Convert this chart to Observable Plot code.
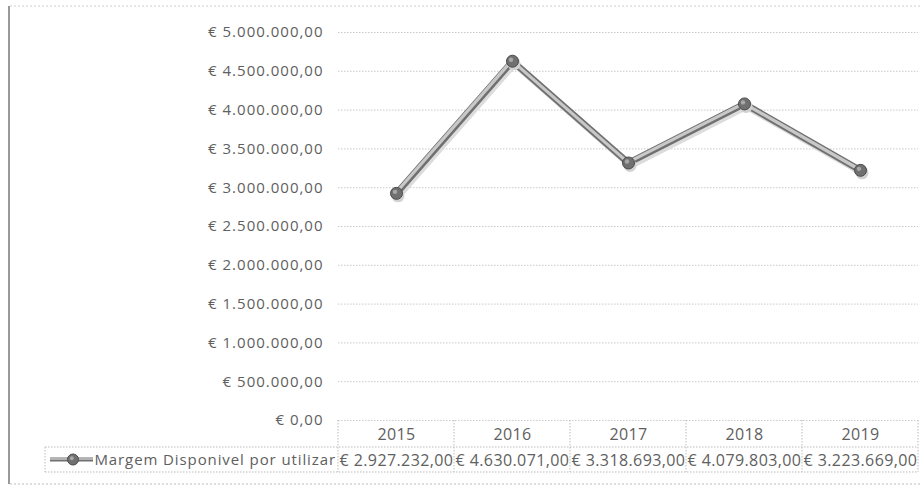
<!DOCTYPE html>
<html>
<head>
<meta charset="utf-8">
<script src="https://cdn.jsdelivr.net/npm/d3@7"></script>
<script src="https://cdn.jsdelivr.net/npm/@observablehq/plot@0.6"></script>
<style>
  html, body { margin: 0; padding: 0; background: #fff; }
  svg { display: block; }
</style>
</head>
<body>
<div id="chart"></div>
<script>
const years = ["2015", "2016", "2017", "2018", "2019"];
const values = [2927232, 4630071, 3318693, 4079803, 3223669];
const seriesName = "Margem Disponivel por utilizar";
const yTicks = [0, 500000, 1000000, 1500000, 2000000, 2500000, 3000000, 3500000, 4000000, 4500000, 5000000];

const data = years.map((y, i) => ({year: y, value: values[i]}));

const locale = d3.formatLocale({decimal: ",", thousands: ".", grouping: [3], currency: ["€ ", ""]});
const fmt = locale.format("$,.2f");

const font = "'Open Sans', sans-serif";
const textColor = "#606060";

const plot = Plot.plot({
  width: 922,
  height: 487,
  marginLeft: 338,
  marginRight: 4,
  marginTop: 32,
  marginBottom: 67,
  style: {fontFamily: font, fontSize: "15px", letterSpacing: "1px", color: textColor, background: "#fff"},
  x: {type: "point", domain: years, padding: 0.5, axis: null},
  y: {domain: [0, 5000000], ticks: yTicks, tickFormat: fmt, tickSize: 0, tickPadding: 15, label: null},
  marks: [
    Plot.gridY(yTicks, {stroke: "#bdbdbd", strokeOpacity: 1, strokeDasharray: "1.5,1.5", strokeWidth: 0.8}),
    Plot.axisY({ticks: yTicks, tickFormat: fmt, tickSize: 0, tickPadding: 15, fontSize: 15, label: null}),
    // shadow
    Plot.line(data, {x: "year", y: "value", stroke: "#dcdcdc", strokeWidth: 6, dx: 2, dy: 3}),
    // tube: dark edge + light core
    Plot.line(data, {x: "year", y: "value", stroke: "#707070", strokeWidth: 6.5}),
    Plot.line(data, {x: "year", y: "value", stroke: "#c8c8c8", strokeWidth: 3.2, dx: -0.6, dy: -0.6}),
    Plot.dot(data, {x: "year", y: "value", r: 6.5, fill: "#d2d2d2", dx: 1.5, dy: 2.5}),
    Plot.dot(data, {x: "year", y: "value", r: 6, fill: "#707070", stroke: "#4a4a4a", strokeWidth: 1}),
    Plot.dot(data, {x: "year", y: "value", r: 2.2, fill: "#a8a8a8", dx: -1.5, dy: -1.5}),
    // table: years row and values row
    Plot.text(data, {x: "year", y: 0, text: "year", dy: 14, fontSize: 16, fill: textColor}),
    Plot.text(data, {x: "year", y: 0, text: d => fmt(d.value), dy: 40, fontSize: 16, fill: textColor})
  ]
});

const svg = d3.select(plot);
svg.selectAll('g[aria-label="text"] text').style("letter-spacing", "0.4px");

const xs = plot.scale("x");
const ys = plot.scale("y");
const step = xs.apply(years[1]) - xs.apply(years[0]);
const y0 = ys.apply(0);
const xRight = xs.apply(years[years.length - 1]) + step / 2;
const legendLeft = 45;
const rowMid = y0 + 27;
const rowBot = y0 + 52;
const g = svg.append("g").attr("stroke", "#bbb").attr("stroke-dasharray", "1.5,1.5").attr("fill", "none");
years.forEach((yr) => {
  const xb = xs.apply(yr) - step / 2;
  g.append("line").attr("x1", xb).attr("x2", xb).attr("y1", y0).attr("y2", rowBot);
});
g.append("line").attr("x1", xRight).attr("x2", xRight).attr("y1", y0).attr("y2", rowBot);
g.append("line").attr("x1", legendLeft).attr("x2", xRight).attr("y1", rowMid).attr("y2", rowMid);
g.append("line").attr("x1", legendLeft).attr("x2", xRight).attr("y1", rowBot).attr("y2", rowBot);
g.append("line").attr("x1", legendLeft).attr("x2", legendLeft).attr("y1", rowMid).attr("y2", rowBot);

// legend key
const ly = (rowMid + rowBot) / 2;
const lg = svg.append("g");
lg.append("line").attr("x1", 50).attr("x2", 93).attr("y1", ly).attr("y2", ly).attr("stroke", "#707070").attr("stroke-width", 4);
lg.append("line").attr("x1", 50).attr("x2", 93).attr("y1", ly - 0.5).attr("y2", ly - 0.5).attr("stroke", "#c8c8c8").attr("stroke-width", 1.5);
lg.append("circle").attr("cx", 73).attr("cy", ly).attr("r", 5.5).attr("fill", "#707070").attr("stroke", "#4a4a4a");
lg.append("circle").attr("cx", 71.8).attr("cy", ly - 1.3).attr("r", 2).attr("fill", "#a8a8a8");
lg.append("text").attr("x", 336).attr("y", ly).attr("dy", "0.36em").attr("text-anchor", "end")
  .attr("font-family", font).attr("font-size", 15).style("letter-spacing", "0.9px").attr("fill", textColor).text(seriesName);

// outer chart frame (scanned border)
const fr = svg.append("g").attr("fill", "none");
fr.append("line").attr("x1", 10).attr("x2", 922).attr("y1", 6).attr("y2", 6).attr("stroke", "#ccc").attr("stroke-dasharray", "2,2");
fr.append("line").attr("x1", 10).attr("x2", 922).attr("y1", 484).attr("y2", 484).attr("stroke", "#bbb").attr("stroke-dasharray", "2,2");
fr.append("line").attr("x1", 9).attr("x2", 9).attr("y1", 6).attr("y2", 484).attr("stroke", "#999").attr("stroke-width", 2);

document.getElementById("chart").appendChild(plot);
</script>
</body>
</html>
